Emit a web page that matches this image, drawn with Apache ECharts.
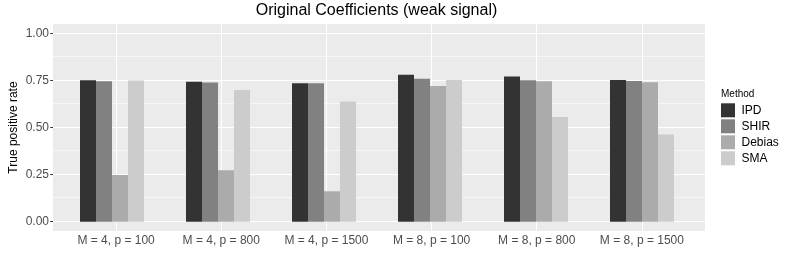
<!DOCTYPE html>
<html>
<head>
<meta charset="utf-8">
<script src="https://cdn.jsdelivr.net/npm/echarts@6/dist/echarts.min.js"></script>
<style>
html,body{margin:0;padding:0;background:#fff;}
#chart{width:789px;height:267px;}
</style>
</head>
<body>
<div id="chart"></div>
<script>
const categories = ['M = 4, p = 100', 'M = 4, p = 800', 'M = 4, p = 1500', 'M = 8, p = 100', 'M = 8, p = 800', 'M = 8, p = 1500'];
const methods = ['IPD', 'SHIR', 'Debias', 'SMA'];
const ipd    = [0.753, 0.746, 0.737, 0.783, 0.773, 0.755];
const shir   = [0.748, 0.742, 0.737, 0.762, 0.753, 0.750];
const debias = [0.249, 0.274, 0.162, 0.723, 0.748, 0.743];
const sma    = [0.752, 0.702, 0.641, 0.755, 0.558, 0.464];
const yTicks = [0, 0.25, 0.5, 0.75, 1];
const yMinor = [0.125, 0.375, 0.625, 0.875];

const colors = ['#333333', '#818181', '#ababab', '#cccccc'];
const seriesValues = [ipd, shir, debias, sma];
const xPos = categories.map((c, i) => i + 1);
const font = '"Liberation Sans", Arial, Helvetica, sans-serif';

const chart = echarts.init(document.getElementById('chart'), null, {renderer: 'canvas'});

const gridLines = [];
xPos.forEach(x => gridLines.push({xAxis: x, lineStyle: {color: '#ffffff', width: 1.1, type: 'solid'}}));
yTicks.forEach(y => gridLines.push({yAxis: y, lineStyle: {color: '#ffffff', width: 1.1, type: 'solid'}}));
yMinor.forEach(y => gridLines.push({yAxis: y, lineStyle: {color: '#ffffff', width: 0.55, type: 'solid'}}));

const barSeries = methods.map((m, k) => ({
  name: m,
  type: 'bar',
  xAxisIndex: 1,
  yAxisIndex: 1,
  barWidth: 16,
  barGap: '0%',
  z: 3,
  itemStyle: {color: colors[k]},
  data: seriesValues[k]
}));

const gridSeries = {
  name: 'grid',
  type: 'line',
  xAxisIndex: 0,
  yAxisIndex: 0,
  data: [],
  silent: true,
  z: 1,
  markLine: {
    silent: true,
    symbol: ['none', 'none'],
    z: 1,
    animation: false,
    label: {show: false},
    data: gridLines
  }
};

chart.setOption({
  animation: false,
  backgroundColor: '#ffffff',
  textStyle: {fontFamily: font},
  title: [
    {
      text: 'Original Coefficients (weak signal)',
      left: 376.5, textAlign: 'center', top: 3, padding: 0,
      textStyle: {fontSize: 16, fontWeight: 'normal', color: '#000000', fontFamily: font}
    },
    {
      text: 'Method',
      left: 721, top: 89, padding: 0,
      textStyle: {fontSize: 10, fontWeight: 'normal', color: '#000000', fontFamily: font}
    }
  ],
  legend: {
    data: methods,
    orient: 'vertical',
    left: 721, top: 103.3, padding: 0,
    itemWidth: 14, itemHeight: 14, itemGap: 2,
    icon: 'rect',
    textStyle: {fontSize: 12, lineHeight: 14, color: '#000000', fontFamily: font, padding: [0, 0, 0, 1.5]},
    selectedMode: false
  },
  grid: [
    {left: 48, right: 84, top: 24, bottom: 36, show: true, backgroundColor: '#ebebeb', borderWidth: 0},
    {left: 59, right: 94, top: 34, bottom: 45.3, show: false}
  ],
  xAxis: [
    {
      type: 'value', gridIndex: 0, min: 0.4, max: 6.6,
      axisLine: {show: false},
      splitLine: {show: false},
      axisTick: {show: true, customValues: xPos, length: 2.75, lineStyle: {color: '#333333', width: 1}},
      axisLabel: {
        customValues: xPos, margin: 4, fontSize: 12, color: '#4d4d4d', fontFamily: font,
        formatter: v => categories[Math.round(v) - 1] || ''
      }
    },
    {type: 'category', gridIndex: 1, data: categories, show: false}
  ],
  yAxis: [
    {
      type: 'value', gridIndex: 0, min: -0.05, max: 1.05,
      name: 'True positive rate',
      nameLocation: 'middle',
      nameMoveOverlap: false,
      nameGap: 33,
      nameTextStyle: {fontSize: 12, color: '#000000', fontFamily: font},
      axisLine: {show: false},
      splitLine: {show: false},
      axisTick: {show: true, customValues: yTicks, length: 2.75, lineStyle: {color: '#333333', width: 1}},
      axisLabel: {
        customValues: yTicks, margin: 4, fontSize: 12, color: '#4d4d4d', fontFamily: font,
        formatter: v => v.toFixed(2)
      }
    },
    {type: 'value', gridIndex: 1, min: 0, max: 1, show: false}
  ],
  series: [gridSeries].concat(barSeries)
});
</script>
</body>
</html>
